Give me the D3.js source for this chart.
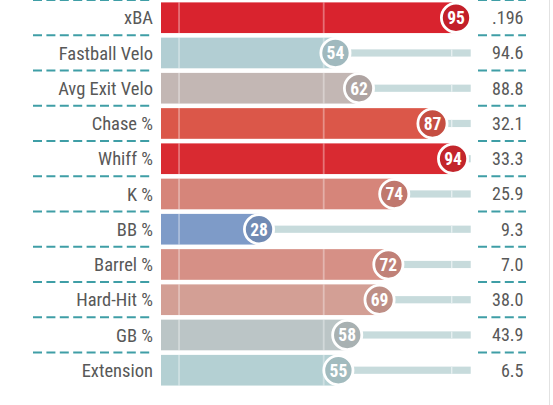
<!DOCTYPE html>
<html>
<head>
<meta charset="utf-8">
<script src="https://cdn.jsdelivr.net/npm/d3@7"></script>
<style>
  html, body { margin: 0; padding: 0; background: #fff; }
  svg { display: block; }
  .lbl { font-family: "Roboto Condensed", "Liberation Sans Narrow", "DejaVu Sans Condensed", Roboto, sans-serif; fill: #585858; }
</style>
</head>
<body>
<svg id="chart"></svg>
<script>
// stats
var metrics = ['xBA', 'Fastball Velo', 'Avg Exit Velo', 'Chase %', 'Whiff %', 'K %', 'BB %', 'Barrel %', 'Hard-Hit %', 'GB %', 'Extension'];
var percentiles = [95, 54, 62, 87, 94, 74, 28, 72, 69, 58, 55];
var statValues = ['.196', '94.6', '88.8', '32.1', '33.3', '25.9', '9.3', '7.0', '38.0', '43.9', '6.5'];

var width = 553, height = 405;

var svg = d3.select('#chart')
	.attr('width', width)
	.attr('height', height);

var x = d3.scaleLinear().domain([0, 100]).range([176.7, 470.7]);

var y = d3.scaleBand()
	.domain(metrics)
	.range([0.1, 0.1 + 35.25 * metrics.length])
	.paddingInner(0.13)
	.paddingOuter(0.065);

var step = y.step();

// percentile colour ramp (blue -> grey -> red)
var color = d3.scaleLinear()
	.domain([0, 30, 55, 70, 74, 88, 95, 100])
	.range(['#3a5cb2', '#83a0ca', '#b4d0d3', '#d59b91', '#d6857a', '#db5345', '#d9232e', '#d41c28'])
	.clamp(true);

// right border
svg.append('line')
	.attr('x1', 549.5).attr('x2', 549.5)
	.attr('y1', 0).attr('y2', height)
	.attr('stroke', '#e2e2e2')
	.attr('stroke-width', 1);

// dashed separators (above each row)
var seps = metrics.map(function(d){ return y(d) - step * 0.065; });
var sepG = svg.append('g');
sepG.selectAll('line.l')
	.data(seps).enter().append('line')
	.attr('class', 'l')
	.attr('x1', 33).attr('x2', 153)
	.attr('y1', function(d){ return d; })
	.attr('y2', function(d){ return d; });
sepG.selectAll('line.r')
	.data(seps).enter().append('line')
	.attr('class', 'r')
	.attr('x1', 478).attr('x2', 526)
	.attr('y1', function(d){ return d; })
	.attr('y2', function(d){ return d; });
sepG.selectAll('line')
	.attr('stroke', '#3f9ea6')
	.attr('stroke-width', 2)
	.attr('stroke-dasharray', '9,4.4');

var row = svg.selectAll('g.row')
	.data(metrics)
	.enter().append('g')
	.attr('class', 'row')
	.attr('transform', function(d){ return 'translate(0,' + y(d) + ')'; });

var bh = y.bandwidth();

// track
row.append('rect')
	.attr('x', function(d,i){ return x(percentiles[i]); })
	.attr('width', function(d,i){ return x(100) - x(percentiles[i]); })
	.attr('y', bh / 2 - 3.6)
	.attr('height', 7.2)
	.attr('fill', '#c7dbdc');

// track divider
row.append('rect')
	.attr('x', x(93.5) - 0.6)
	.attr('width', 1.4)
	.attr('y', bh / 2 - 3.6)
	.attr('height', 7.2)
	.attr('fill', '#e6eff0');

// bar
row.append('rect')
	.attr('x', 161)
	.attr('width', function(d,i){ return x(percentiles[i]) - 161; })
	.attr('height', bh)
	.attr('fill', function(d,i){ return color(percentiles[i]); });

// guide lines inside bars
[0.8, 50].forEach(function(g){
	row.append('rect')
		.attr('x', x(g) - 0.9)
		.attr('width', 1.8)
		.attr('height', bh)
		.attr('fill', '#ffffff')
		.attr('fill-opacity', function(d,i){ return x(percentiles[i]) > x(g) + 2 ? 0.35 : 0; });
});

// circles
row.append('circle')
	.attr('cx', function(d,i){ return x(percentiles[i]); })
	.attr('cy', bh / 2)
	.attr('r', 14.6)
	.attr('fill', function(d,i){ return d3.color(color(percentiles[i])).darker(0.3); })
	.attr('stroke', '#fff')
	.attr('stroke-width', 2.8);

row.append('text')
	.attr('class', 'lbl')
	.attr('x', function(d,i){ return x(percentiles[i]); })
	.attr('y', bh / 2)
	.attr('dy', '0.37em')
	.attr('text-anchor', 'middle')
	.style('font-size', '17.5px')
	.style('font-weight', 'bold')
	.style('fill', '#fff')
	.text(function(d,i){ return percentiles[i]; });

// metric labels
row.append('text')
	.attr('class', 'lbl')
	.attr('x', 153)
	.attr('y', bh / 2)
	.attr('dy', '0.36em')
	.attr('text-anchor', 'end')
	.style('font-size', '18.5px')
	.text(function(d){ return d; });

// stat values
row.append('text')
	.attr('class', 'lbl')
	.attr('x', 523.5)
	.attr('y', bh / 2)
	.attr('dy', '0.36em')
	.attr('text-anchor', 'end')
	.style('font-size', '18px')
	.text(function(d,i){ return statValues[i]; });
</script>
</body>
</html>
